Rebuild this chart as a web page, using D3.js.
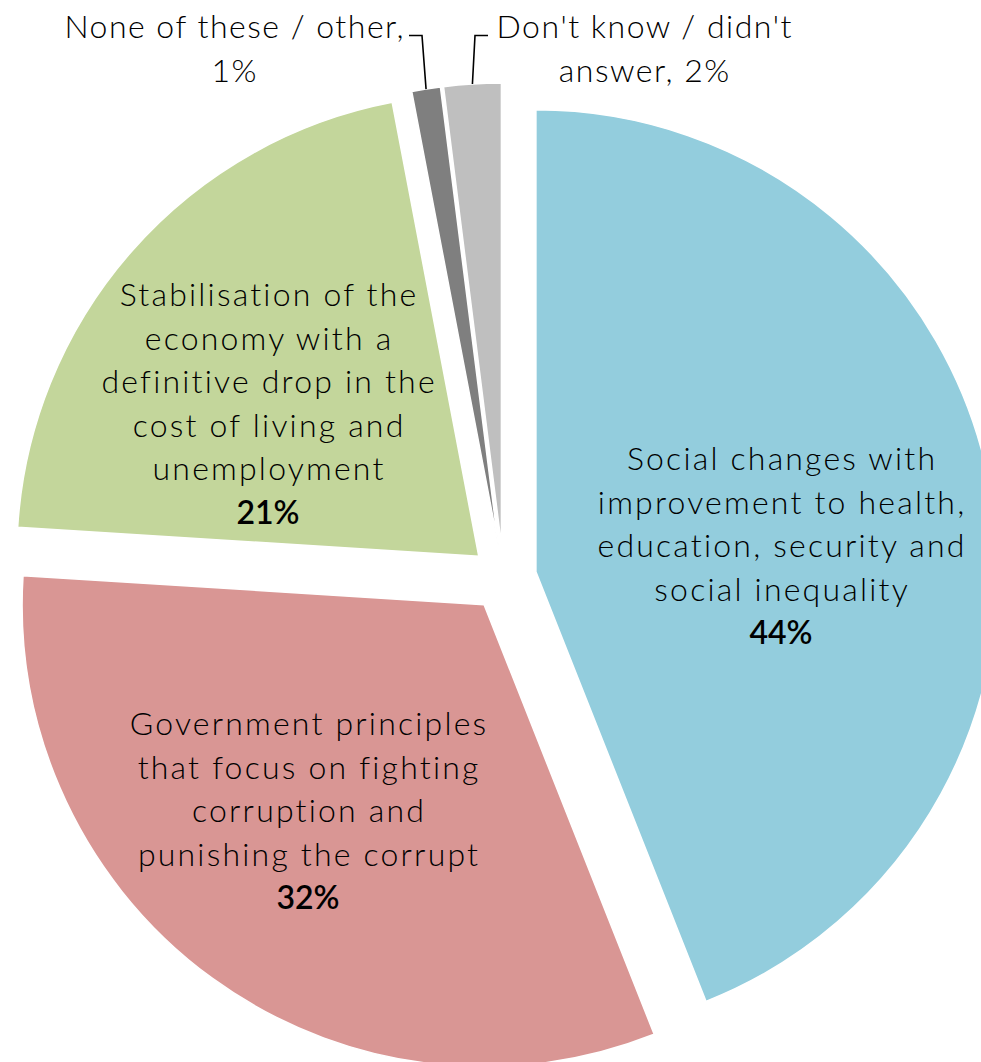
<!DOCTYPE html>
<html>
<head>
<meta charset="utf-8">
<script src="https://cdn.jsdelivr.net/npm/d3@7/dist/d3.min.js"></script>
<style>
  html, body { margin: 0; padding: 0; background: #ffffff; }
  svg { display: block; }
</style>
</head>
<body>
<script>
// Survey answers, clockwise from 12 o'clock
const categories = [
  "Social changes with improvement to health, education, security and social inequality",
  "Government principles that focus on fighting corruption and punishing the corrupt",
  "Stabilisation of the economy with a definitive drop in the cost of living and unemployment",
  "None of these / other",
  "Don't know / didn't answer"
];
const values = [44, 32, 21, 1, 2];
const sliceColors = ["#93cddd", "#d99694", "#c3d69b", "#7f7f7f", "#bfbfbf"];

// Wrapped label text for each slice
const labelLines = [
  ["Social changes with", "improvement to health,", "education, security and", "social inequality"],
  ["Government principles", "that focus on fighting", "corruption and", "punishing the corrupt"],
  ["Stabilisation of the", "economy with a", "definitive drop in the", "cost of living and", "unemployment"],
  ["None of these / other,", ""],
  ["Don't know / didn't", "answer, "]
];
// Slices whose label sits outside the pie (value written inline, with a leader line)
const outsideLabel = [false, false, false, true, true];

// ---- layout ----
const W = 981, H = 1062;
const cx = 503.5, cy = 578;     // pie centre before exploding
const R = 462;                   // radius
const explode = 33;              // every slice is pulled out by this much
const fontFamily = "Lato, 'Open Sans', 'Noto Sans', sans-serif";
const fontSize = 32;
const lineHeight = 43.5;
const tracking = 2.2;            // letter spacing of the category text
const outsideTracking = 1.5;     // letter spacing of the labels above the pie

// label block: centre x and first baseline y
const labelAnchor = [
  { x: 781, y: 470 },
  { x: 308, y: 735 },
  { x: 268, y: 306 },
  { x: 234, y: 38 },
  { x: 644, y: 38 }
];
// leader lines for outside labels: label end point and elbow
const leaderGeom = [
  null, null, null,
  { label: [409, 35.5], elbow: [422, 35.5] },
  { label: [488, 35.5], elbow: [475, 35.5] }
];

const svg = d3.select("body").append("svg")
  .attr("width", W)
  .attr("height", H)
  .attr("viewBox", `0 0 ${W} ${H}`);

const pie = d3.pie().sort(null).value(d => d);
const arcs = pie(values);
const arc = d3.arc().innerRadius(0).outerRadius(R);

// direction of a slice's bisector (0 rad = 12 o'clock, clockwise)
function bisector(a) { return (a.startAngle + a.endAngle) / 2; }
function polar(angle, r) { return [r * Math.sin(angle), -r * Math.cos(angle)]; }

const slices = svg.append("g").attr("class", "slices");
slices.selectAll("path")
  .data(arcs)
  .join("path")
  .attr("transform", d => {
    const [dx, dy] = polar(bisector(d), explode);
    return `translate(${cx + dx},${cy + dy})`;
  })
  .attr("d", arc)
  .attr("fill", (d, i) => sliceColors[i])
  .attr("stroke", "#ffffff")
  .attr("stroke-width", 1.5)
  .attr("stroke-linejoin", "round");

// leader lines: from outer arc midpoint up to the label
const leaders = svg.append("g").attr("class", "leaders");
arcs.forEach((d, i) => {
  if (!outsideLabel[i]) return;
  const m = bisector(d);
  const [ox, oy] = polar(m, explode);
  const [px, py] = polar(m, R);
  const start = [cx + ox + px, cy + oy + py];
  const g = leaderGeom[i];
  leaders.append("path")
    .attr("d", d3.line()([start, g.elbow, g.label]))
    .attr("fill", "none")
    .attr("stroke", "#000000")
    .attr("stroke-width", 1.6)
    .attr("stroke-linejoin", "miter");
});

// labels
const labels = svg.append("g").attr("class", "labels")
  .attr("font-family", fontFamily)
  .attr("font-size", fontSize)
  .attr("fill", "#000000")
  .attr("text-anchor", "middle");

function textLine(t, x, y, str, weight, spacing) {
  t.append("tspan")
    .attr("x", x + spacing / 2)   // keep the tracked line centred
    .attr("y", y)
    .attr("font-weight", weight)
    .attr("letter-spacing", spacing)
    .text(str);
}

arcs.forEach((d, i) => {
  const a = labelAnchor[i];
  const lines = labelLines[i].slice();
  const pct = values[i] + "%";
  const t = labels.append("text");
  if (outsideLabel[i]) {
    lines[lines.length - 1] = lines[lines.length - 1] + pct;
    lines.forEach((ln, k) => textLine(t, a.x, a.y + k * 44, ln, 300, outsideTracking));
  } else {
    lines.forEach((ln, k) => textLine(t, a.x, a.y + k * lineHeight, ln, 300, tracking));
    textLine(t, a.x, a.y + lines.length * lineHeight, pct, 600, 0);
  }
});
</script>
</body>
</html>
